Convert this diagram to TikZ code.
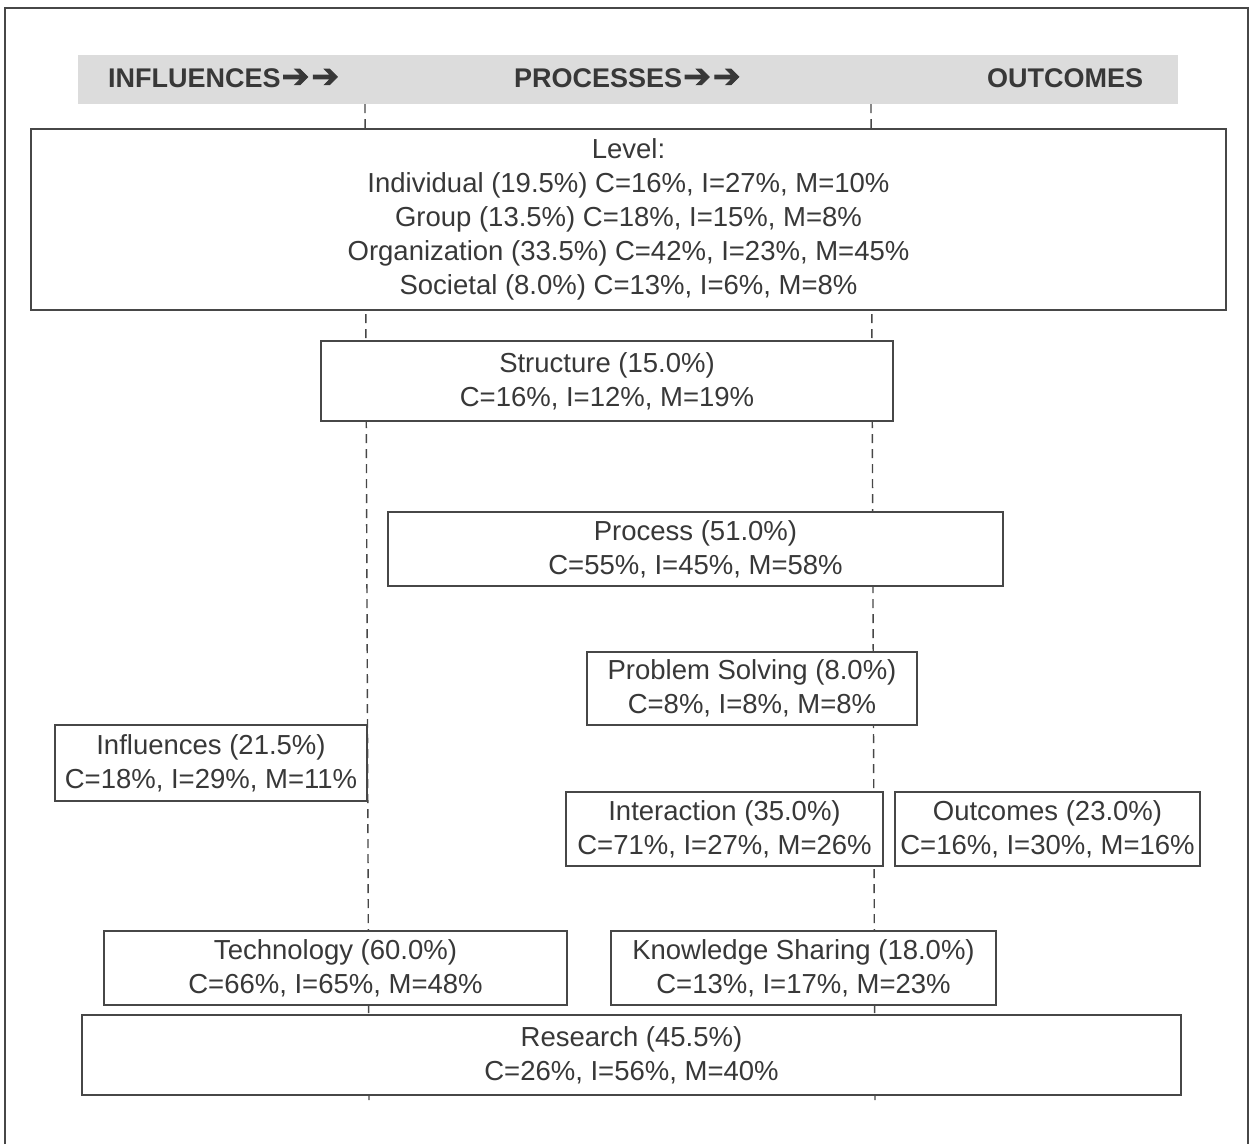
\documentclass[tikz,border=0pt]{standalone}
\usepackage{fontspec}
\setmainfont{Liberation Sans}
\newfontfamily\arrowfont[FakeBold=2.5]{DejaVu Sans}
\definecolor{txt}{HTML}{383838}
\definecolor{edge}{HTML}{474747}
\definecolor{headgray}{HTML}{DCDCDC}
\newcommand{\hdarrows}{{\arrowfont\fontsize{33}{33}\selectfont\kern1pt ➔\kern2pt➔}}
\begin{document}
\begin{tikzpicture}[x=1pt,y=-1pt,
  box/.style={draw=edge, line width=1.6pt, fill=white, inner sep=0pt, align=center,
    text=txt, font=\fontsize{27.5}{34}\selectfont},
  guide/.style={draw=edge, line width=1.4pt, dash pattern=on 9pt off 6pt},
  headtxt/.style={inner sep=0pt, text=txt, font=\fontsize{27}{32}\selectfont\bfseries, anchor=west}
]
\useasboundingbox (0,0) rectangle (1250,1144);
% outer frame
\draw[edge, line width=1.4pt] (5,1144) -- (5,8) -- (1248,8) -- (1248,1144);
% header band
\node[fill=headgray, inner sep=0pt, minimum width=1100pt, minimum height=49pt] (head) at (628,79.5) {};
\node[headtxt] (hinf) at (108,78) {INFLUENCES\hdarrows};
\node[headtxt] (hpro) at (514,78) {PROCESSES\hdarrows};
\node[headtxt] (hout) at (987,78) {OUTCOMES};
% guide lines
\coordinate (lt) at (365,104);
\coordinate (lb) at (369,1100);
\coordinate (rt) at (871,104);
\coordinate (rb) at (875,1100);
\draw[guide] (lt) -- (lb);
\draw[guide] (rt) -- (rb);
% boxes
\node[box, minimum width=1195pt, minimum height=181pt] (level) at (628.5,219.5)
  {Level:\\Individual (19.5\%) C=16\%, I=27\%, M=10\%\\Group (13.5\%) C=18\%, I=15\%, M=8\%\\Organization (33.5\%) C=42\%, I=23\%, M=45\%\\Societal (8.0\%) C=13\%, I=6\%, M=8\%};
\node[box, minimum width=572pt, minimum height=80pt] (structure) at (607,381)
  {Structure (15.0\%)\\C=16\%, I=12\%, M=19\%};
\node[box, minimum width=615pt, minimum height=74pt] (process) at (695.5,549)
  {Process (51.0\%)\\C=55\%, I=45\%, M=58\%};
\node[box, minimum width=330pt, minimum height=73pt] (problem) at (752,688.5)
  {Problem Solving (8.0\%)\\C=8\%, I=8\%, M=8\%};
\node[box, minimum width=312pt, minimum height=76pt] (influences) at (211,763)
  {Influences (21.5\%)\\C=18\%, I=29\%, M=11\%};
\node[box, minimum width=317pt, minimum height=74pt] (interaction) at (724.5,829)
  {Interaction (35.0\%)\\C=71\%, I=27\%, M=26\%};
\node[box, minimum width=305pt, minimum height=74pt] (outcomes) at (1047.5,829)
  {Outcomes (23.0\%)\\C=16\%, I=30\%, M=16\%};
\node[box, minimum width=463pt, minimum height=74pt] (technology) at (335.5,968)
  {Technology (60.0\%)\\C=66\%, I=65\%, M=48\%};
\node[box, minimum width=385pt, minimum height=74pt] (knowledge) at (803.5,968)
  {Knowledge Sharing (18.0\%)\\C=13\%, I=17\%, M=23\%};
\node[box, minimum width=1099pt, minimum height=80pt] (research) at (631.5,1055)
  {Research (45.5\%)\\C=26\%, I=56\%, M=40\%};
\end{tikzpicture}
\end{document}
